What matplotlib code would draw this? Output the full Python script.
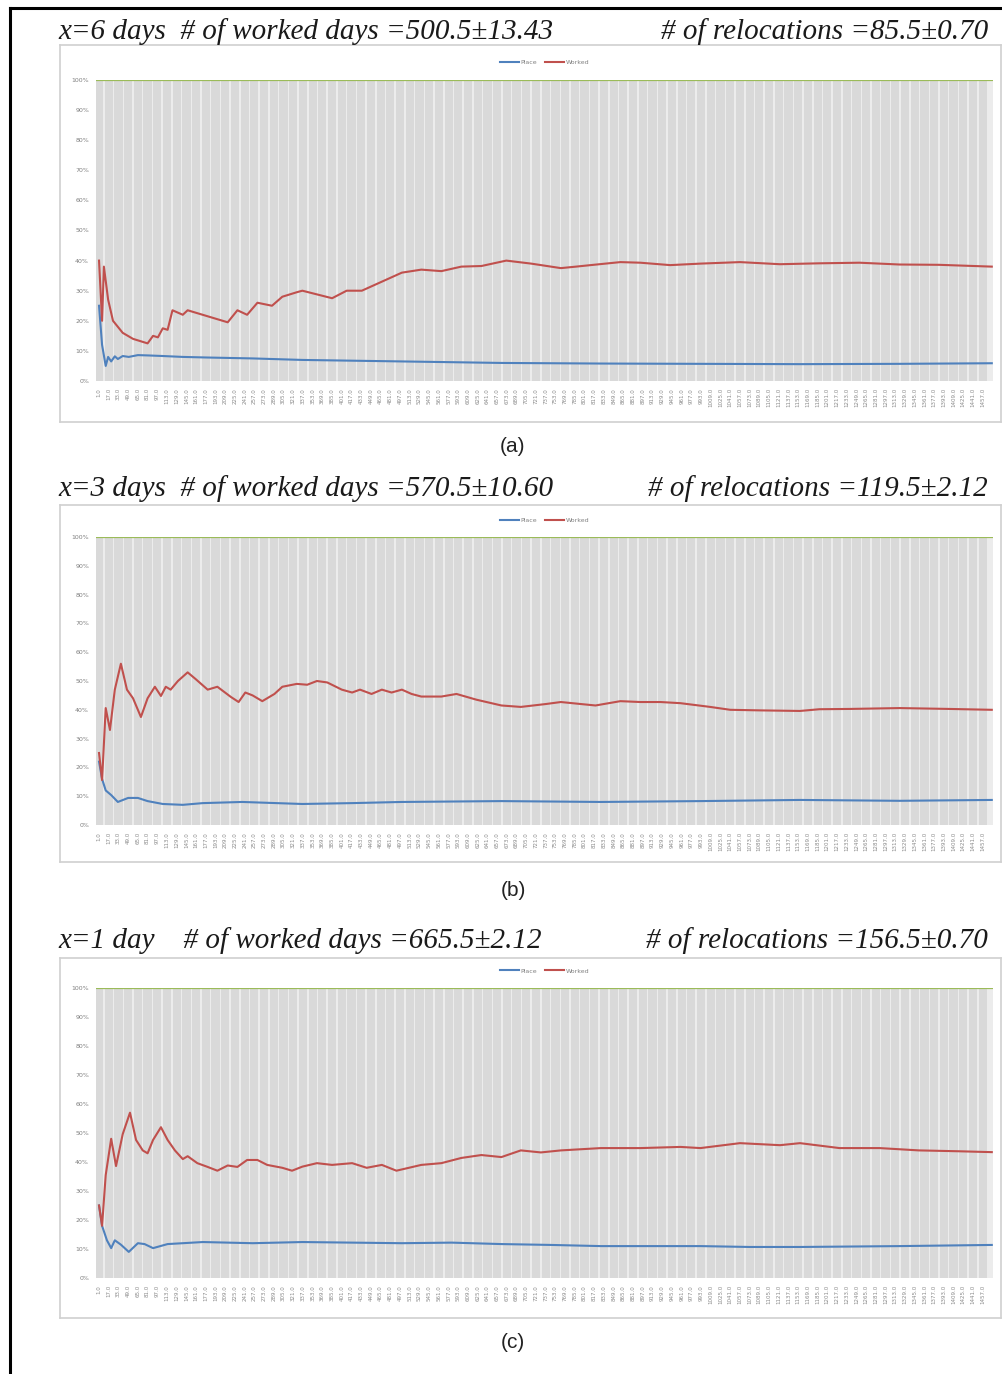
import matplotlib
matplotlib.use("Agg")
import matplotlib.pyplot as plt
from matplotlib.lines import Line2D

# ---- data (day, share) ----
titles_left = ["x=6 days  # of worked days =500.5\u00b113.43",
               "x=3 days  # of worked days =570.5\u00b110.60",
               "x=1 day    # of worked days =665.5\u00b12.12"]
titles_right = ["# of relocations =85.5\u00b10.70",
                "# of relocations =119.5\u00b12.12",
                "# of relocations =156.5\u00b10.70"]
captions = ["(a)", "(b)", "(c)"]

tick_days = list(range(1, 1472, 16))
bg_vals = [1.0] * len(tick_days)

worked_a_x = [1, 6, 9, 16, 24, 40, 57, 81, 90, 98, 106, 114, 122, 139, 147, 180, 213, 229, 245, 262, 286, 303, 327, 336,
              385, 409, 434, 467, 500, 532, 565, 598, 631, 672, 713, 762, 787, 811, 860, 893, 942, 992, 1057, 1123, 1188,
              1254, 1320, 1385, 1472]
worked_a_y = [40, 20, 38, 27, 20, 16, 14, 12.5, 15, 14.5, 17.5, 17, 23.5, 22, 23.5, 21.5, 19.5, 23.5, 22, 26, 25, 28, 29.5, 30,
              27.5, 30, 30, 33, 36, 37, 36.5, 38, 38.2, 40, 39, 37.5, 38, 38.5, 39.5, 39.3, 38.5, 39, 39.5, 38.8, 39.1,
              39.3, 38.7, 38.6, 38]
place_a_x = [1, 6, 12, 16, 21, 27, 32, 40, 50, 65, 81, 106, 139, 180, 254, 336, 500, 664, 828, 992, 1156, 1320, 1472]
place_a_y = [25, 12, 5, 8, 6.5, 8.2, 7.3, 8.3, 8.0, 8.6, 8.5, 8.3, 8.0, 7.8, 7.5, 7.0, 6.5, 6.0, 5.8, 5.7, 5.6, 5.7, 5.9]

worked_b_x = [1, 6, 12, 19, 27, 37, 47, 57, 70, 81, 93, 103, 111, 119, 131, 147, 160, 180, 196, 218, 231, 242, 254, 270,
              290, 303, 327, 344, 360, 377, 401, 418, 431, 450, 467, 483, 500, 516, 532, 565, 590, 623, 664, 696, 737,
              762, 795, 819, 860, 893, 926, 959, 1008, 1041, 1090, 1156, 1188, 1238, 1320, 1402, 1472]
worked_b_y = [25, 15.6, 40.6, 33, 47, 56, 47, 44, 37.5, 44, 48, 44.8, 48, 47, 50, 53, 50.7, 47, 48, 44.5, 42.7, 46, 45, 43,
              45.5, 48, 49, 48.7, 50, 49.5, 47, 46, 47, 45.5, 47, 46, 47, 45.5, 44.6, 44.6, 45.5, 43.5, 41.5, 41, 42,
              42.7, 42, 41.5, 43, 42.7, 42.7, 42.3, 41, 40, 39.8, 39.6, 40.2, 40.3, 40.6, 40.3, 40]
place_b_x = [1, 6, 12, 21, 32, 49, 65, 81, 106, 139, 172, 237, 336, 418, 500, 664, 828, 992, 1156, 1320, 1472]
place_b_y = [22, 16, 12, 10.4, 8, 9.4, 9.4, 8.3, 7.3, 7, 7.6, 8, 7.3, 7.6, 8, 8.3, 8, 8.3, 8.7, 8.4, 8.7]

worked_c_x = [1, 6, 12, 21, 29, 40, 52, 62, 73, 81, 90, 103, 114, 126, 139, 147, 163, 180, 196, 213, 229, 245, 262, 278,
              303, 319, 336, 360, 385, 418, 442, 467, 491, 532, 565, 598, 631, 664, 696, 729, 762, 828, 893, 959, 992,
              1057, 1123, 1156, 1221, 1287, 1352, 1418, 1472]
worked_c_y = [25, 18, 35.5, 48, 38.6, 49.6, 57, 47.6, 44, 43, 47.6, 52, 47.6, 44, 41, 42, 39.6, 38.3, 37, 38.8, 38.3, 40.7,
              40.7, 39, 38, 37, 38.4, 39.6, 39, 39.6, 38, 39, 37, 39, 39.6, 41.4, 42.4, 41.7, 44, 43.3, 44, 44.8, 44.8,
              45.2, 44.8, 46.5, 45.8, 46.5, 44.8, 44.8, 44, 43.7, 43.4]
place_c_x = [1, 6, 14, 21, 27, 37, 50, 65, 76, 90, 114, 139, 172, 254, 336, 500, 582, 664, 746, 828, 992, 1073, 1156,
             1320, 1472]
place_c_y = [25, 18, 13, 10.3, 13, 11.5, 9, 12, 11.7, 10.3, 11.7, 12, 12.4, 12, 12.4, 12, 12.2, 11.7, 11.4, 11, 11,
             10.7, 10.7, 11, 11.4]

panels = [
    (worked_a_x, worked_a_y, place_a_x, place_a_y),
    (worked_b_x, worked_b_y, place_b_x, place_b_y),
    (worked_c_x, worked_c_y, place_c_x, place_c_y),
]

# pixel layout: (title_y, box_top, box_bottom, plot_top, plot_bottom, caption_y)
layout = [
    (32, 45, 422, 80, 381, 447),
    (489, 505, 862, 537, 825, 891),
    (941, 958, 1318, 988, 1278, 1342),
]

W, H = 1003, 1374
fig = plt.figure(figsize=(W / 100, H / 100), dpi=100)

def px(x0, y0, x1, y1):
    return [x0 / W, 1 - y1 / H, (x1 - x0) / W, (y1 - y0) / H]

RED = "#c0504d"
BLUE = "#4f81bd"
GREEN = "#9bbb59"
serif = ["Liberation Serif", "DejaVu Serif"]

# outer frame lines
fig.add_artist(Line2D([10 / W, 10 / W], [0, 1 - 8 / H], color="black", lw=2.2))
fig.add_artist(Line2D([10 / W, 1], [1 - 8 / H, 1 - 8 / H], color="black", lw=2.2))

for i, (wx, wy, plx, ply) in enumerate(panels):
    ty, bt, bb, pt, pb, cy = layout[i]

    # chart box
    box = fig.add_axes(px(60, bt, 1001, bb))
    box.set_xticks([])
    box.set_yticks([])
    for s in box.spines.values():
        s.set_color("#d0d0d0")
        s.set_linewidth(1.2)

    ax = fig.add_axes(px(96, pt, 993, pb))
    ax.set_facecolor("#ececec")
    ax.bar(tick_days, bg_vals, width=13.5, color="#d9d9d9", align="center", zorder=1)
    ax.axhline(1.0, color=GREEN, lw=1.6, zorder=3)
    ax.plot(plx, [v / 100 for v in ply], color=BLUE, lw=1.5, zorder=4, label="Place")
    ax.plot(wx, [v / 100 for v in wy], color=RED, lw=1.5, zorder=5, label="Worked")
    ax.set_xlim(-4, 1474)
    ax.set_ylim(0, 1.0)
    ax.set_yticks([k / 10 for k in range(11)])
    ax.set_yticklabels([f"{k * 10}%" for k in range(11)], fontsize=4.5, color="#808080")
    ax.set_xticks(tick_days)
    ax.set_xticklabels([f"{d}.0" for d in tick_days], rotation=90, fontsize=4, color="#8a8a8a")
    ax.tick_params(length=0, pad=5)
    for s in ax.spines.values():
        s.set_visible(False)

    leg = ax.legend(loc="lower center", bbox_to_anchor=(0.5, 1.03), ncol=2, frameon=False,
                    fontsize=4.5, handlelength=3, columnspacing=1.2, handletextpad=0.3)
    for t in leg.get_texts():
        t.set_color("#808080")

    fig.text(58 / W, 1 - ty / H, titles_left[i], fontsize=21, style="italic", family=serif,
             va="center", ha="left", color="#1a1a1a")
    fig.text(988 / W, 1 - ty / H, titles_right[i], fontsize=21, style="italic", family=serif,
             va="center", ha="right", color="#1a1a1a")
    fig.text(513 / W, 1 - cy / H, captions[i], fontsize=15, family=["Liberation Sans", "DejaVu Sans"],
             va="center", ha="center", color="#222222")

fig.savefig("out.png", dpi=100)
